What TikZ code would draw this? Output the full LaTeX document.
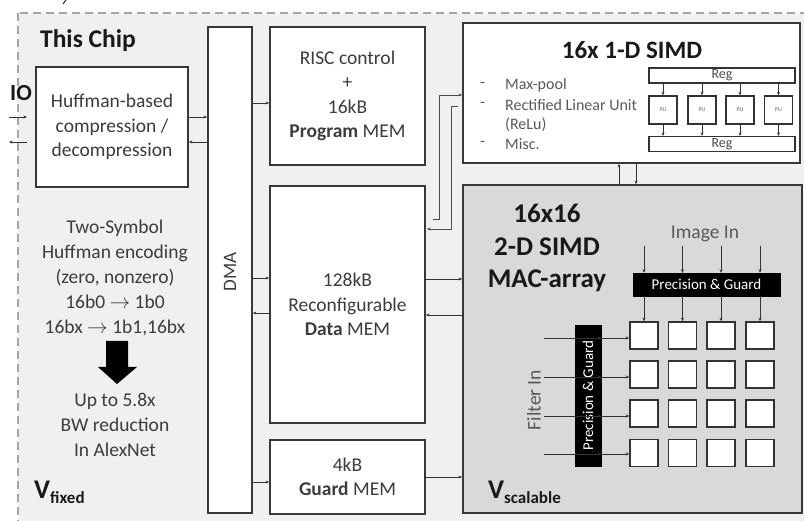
\documentclass[tikz,border=0pt]{standalone}
\usepackage{fontspec}
\setmainfont{Carlito}
\usetikzlibrary{arrows.meta,calc}
\definecolor{bgc}{HTML}{F0F0F0}
\definecolor{macc}{HTML}{D9D9D9}
\definecolor{txt}{HTML}{3C3C3C}
\begin{document}
\begin{tikzpicture}[x=1pt,y=-1pt,
  box/.style={draw=black!78, line width=1.8pt, fill=white, inner sep=0pt, align=center,
    font=\fontsize{19.5}{24.5}\selectfont, text=txt},
  arr/.style={-{Stealth[length=5pt,width=4pt]}, line width=0.8pt, draw=black!80},
  sarr/.style={-{Stealth[length=3.5pt,width=3pt]}, line width=0.7pt, draw=black!80},
  pg/.style={fill=black, draw=black, text=white, inner sep=0pt, font=\fontsize{15}{15}\selectfont},
  cell/.style={draw=black!80, line width=1.5pt, fill=white, minimum width=28, minimum height=27, inner sep=0pt},
  pu/.style={draw=black!80, line width=1.4pt, fill=white, minimum width=28, minimum height=28, inner sep=0pt, font=\fontsize{6}{6}\selectfont, text=black!60},
  reg/.style={draw=black!80, line width=1.2pt, fill=white, minimum width=146, minimum height=15, inner sep=0pt, font=\fontsize{14}{14}\selectfont, text=black!70},
  plain/.style={inner sep=0pt, text=txt},
  ttl/.style={plain, text=black!90},
]
\useasboundingbox (0,0) rectangle (804,521);
\begin{scope}
  \clip (0,0) rectangle (804,521);
  \fill[white] (0,0) rectangle (804,521);
  \draw[draw=black!35, fill=bgc, line width=2pt, dash pattern=on 8pt off 5pt] (18,13) rectangle (830,545);
  \draw[line width=0.8pt] (63,4) -- (66,0);
\end{scope}

% titles
\node[ttl, font=\fontsize{25.5}{25.5}\selectfont\bfseries] (chip) at (88,41) {This Chip};
\node[ttl, font=\fontsize{23}{23}\selectfont\bfseries] (io) at (21,93) {IO};

% boxes
\node[box, minimum width=152, minimum height=120] (huff) at (112,127) {Huffman-based\\compression /\\decompression};
\node[box, minimum width=44, minimum height=486] (dma) at (230,270) {};
\node[plain, rotate=90, font=\fontsize{19}{19}\selectfont] (dmat) at (230,272) {DMA};
\node[box, minimum width=155, minimum height=138] (risc) at (347.5,96) {RISC control\\+\\16kB\\\textbf{Program} MEM};
\node[box, minimum width=155, minimum height=237] (data) at (347.5,304.5) {128kB\\Reconfigurable\\\textbf{Data} MEM};
\node[box, minimum width=155, minimum height=74] (guard) at (347.5,477) {4kB\\\textbf{Guard} MEM};
\node[box, minimum width=337, minimum height=140] (simd) at (631.5,93) {};
\node[box, fill=macc, minimum width=339, minimum height=328] (mac) at (632.5,349) {};

% left text
\node[plain, align=center, font=\fontsize{19.5}{25}\selectfont] (enc) at (115,278)
  {Two-Symbol\\Huffman encoding\\(zero, nonzero)\\16b0 $\rightarrow$ 1b0\\16bx $\rightarrow$ 1b1,16bx};
\node[plain, align=center, font=\fontsize{19.5}{25}\selectfont] (bw) at (115,425)
  {Up to 5.8x\\BW reduction\\In AlexNet};
\fill[black] (106,341) -- (128,341) -- (128,367) -- (137,367) -- (117,384) -- (98,367) -- (106,367) -- cycle;
\node[ttl, anchor=base west] (vf) at (34,499)
  {{\fontsize{27}{27}\selectfont\bfseries V}{\fontsize{17}{17}\selectfont\bfseries\raisebox{-5pt}{fixed}}};
\node[ttl, anchor=base west] (vs) at (488,499)
  {{\fontsize{27}{27}\selectfont\bfseries V}{\fontsize{17}{17}\selectfont\bfseries\raisebox{-5pt}{scalable}}};

% IO arrows
\coordinate (ioa) at (9,117);
\coordinate (iob) at (27,117);
\coordinate (ioc) at (27,142);
\coordinate (iod) at (9,142);
\draw[sarr] (ioa) -- (iob);
\draw[sarr] (ioc) -- (iod);

% huff <-> dma
\coordinate (h1) at ([yshift=10pt]huff.east);
\coordinate (h2) at ([yshift=-15pt]huff.east);
\draw[sarr] (h1) -- (h1 -| dma.west);
\draw[sarr] (h2 -| dma.west) -- (h2);
% dma -> risc
\coordinate (r1) at ([yshift=-7pt]risc.west);
\draw[sarr] (r1 -| dma.east) -- (r1);
% dma <-> data
\coordinate (d1) at ([yshift=26.5pt]data.west);
\coordinate (d2) at ([yshift=-8.5pt]data.west);
\draw[sarr] (d1 -| dma.east) -- (d1);
\draw[sarr] (d2) -- (d2 -| dma.east);
% dma -> guard
\coordinate (g1) at ([yshift=-5pt]guard.west);
\draw[sarr] (g1 -| dma.east) -- (g1);
% data <-> mac
\coordinate (m1) at ([yshift=25.5pt]data.east);
\coordinate (m2) at ([yshift=-10.5pt]data.east);
\draw[sarr] (m1) -- (m1 -| mac.west);
\draw[sarr] (m2 -| mac.west) -- (m2);
% guard -> mac
\coordinate (g2) at (guard.east);
\draw[sarr] (g2) -- (g2 -| mac.west);
% mac <-> simd
\coordinate (s1) at ([xshift=-13.5pt]mac.north);
\coordinate (s2) at ([xshift=4.5pt]simd.south);
\draw[sarr] (s1) -- (s1 |- simd.south);
\draw[sarr] (s2) -- (s2 |- mac.north);
% data <-> simd bent lines
\coordinate (b1) at (433,219);
\coordinate (b2) at (439,95);
\coordinate (b3) at (458,106);
\coordinate (b4) at (451,229);
\coordinate (b5) at (427,229);
\draw[sarr, draw=black!70] (b1) -| (b2) -- (b2 -| simd.west);
\draw[sarr, draw=black!70] (b3) -| (b4) -- (b5);

% 1-D SIMD contents
\node[ttl, font=\fontsize{25}{25}\selectfont\bfseries] (st) at (632,50) {16x 1-D SIMD};
\begin{scope}[every node/.style={plain, anchor=west, font=\fontsize{16}{16}\selectfont, text=black!65}]
  \node (dash1) at (480,85) {-};
  \node (dash2) at (480,105) {-};
  \node (dash3) at (480,144) {-};
  \node (l1) at (505,85) {Max-pool};
  \node (l2) at (505,105) {Rectified Linear Unit};
  \node (l3) at (505,125) {(ReLu)};
  \node (l4) at (505,144) {Misc.};
\end{scope}
\node[reg] (regt) at (722,75.5) {Reg};
\node[reg] (regb) at (722,144) {Reg};
\foreach \i/\x in {1/663,2/702,3/740,4/778.5}{
  \node[pu] (pu\i) at (\x,110) {PU};
  \draw[sarr] (pu\i.north |- regt.south) -- (pu\i.north);
  \draw[sarr] (pu\i.south) -- (pu\i.south |- regb.north);
}

% MAC contents
\node[ttl, align=center, font=\fontsize{27}{32.5}\selectfont\bfseries] (mt) at (547,248) {16x16\\2-D SIMD\\MAC-array};
\node[plain, font=\fontsize{19.5}{19.5}\selectfont, text=black!65] (imgin) at (705,234) {Image In};
\node[pg, minimum width=147, minimum height=23] (pgt) at (706.5,284.5) {Precision \& Guard};
\node[pg, rotate=90, minimum width=141, minimum height=26] (pgl) at (588,395.5) {Precision \& Guard};
\node[plain, rotate=90, font=\fontsize{19.5}{19.5}\selectfont, text=black!65] (filt) at (534,400) {Filter In};
\foreach \c/\x in {1/644,2/682.5,3/721,4/760}{
  \foreach \r/\y in {1/335.5,2/374.5,3/413.5,4/453}{
    \node[cell] (c\r\c) at (\x,\y) {};
  }
  \coordinate (it\c) at (\x,246);
  \draw[sarr] (it\c) -- (it\c |- pgt.north);
  \draw[sarr] (c1\c.north |- pgt.south) -- (c1\c.north);
}
\foreach \r/\y in {1/338,2/377,3/416,4/454}{
  \coordinate (fi\r) at (544,\y);
  \draw[sarr] (fi\r) -- (fi\r -| pgl.south);
  \draw[sarr] (fi\r -| pgl.north) -- (fi\r -| c\r1.west);
}
\end{tikzpicture}
\end{document}
